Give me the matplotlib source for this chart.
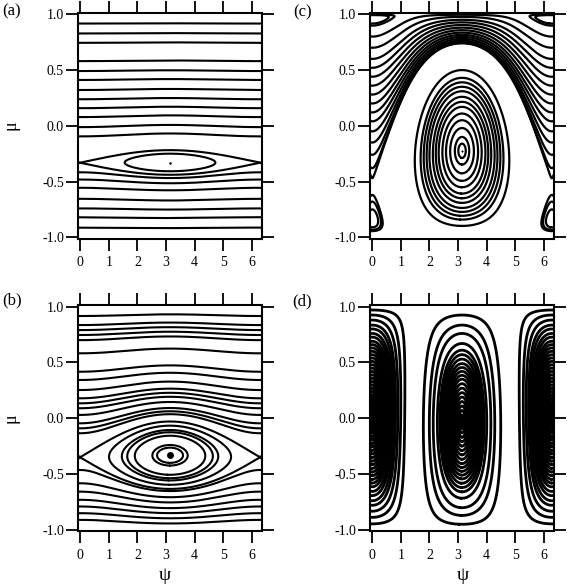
import numpy as np
import matplotlib
matplotlib.use('Agg')
import matplotlib.pyplot as plt
import contourpy

plt.rcParams['font.family'] = ['Liberation Serif', 'DejaVu Serif']
plt.rcParams['axes.unicode_minus'] = False

# phase portraits: H = A*(mu - mu_c)**2 + B*sqrt(1 - mu**2)*cos(psi)
# (A, B, mu_c) per panel
par_a = (1.0, 0.0065, -0.33)
par_b = (1.0, 0.05, -0.34)
par_c = (1.0, 0.682, -0.303)
par_d = (0.15, 1.0, -0.13)

# each orbit is given by one point it passes through:
# mu where it crosses psi = 0, and mu where it crosses psi = pi
a_mu_psi0 = [0.917, 0.828, 0.744, 0.58, 0.491, 0.411, 0.321, 0.238, 0.158, 0.078,
             -0.012, -0.095, -0.33, -0.417, -0.482, -0.556, -0.655, -0.741, -0.82, -0.913]
a_mu_psipi = [-0.25]

b_mu_psi0 = [0.916, 0.835, 0.79, 0.746, 0.70, 0.582, 0.417, 0.343, 0.253, 0.179, 0.134,
             0.09, 0.03, -0.045, -0.09, -0.134, -0.345, -0.463, -0.582, -0.657, -0.73,
             -0.79, -0.85, -0.91]
b_mu_psipi = [-0.239, -0.263, -0.156, -0.105, -0.125, -0.066]

c_mu_psi0 = [0.997, 0.993, 0.8, 0.7, 0.6, 0.52, 0.44, 0.36, 0.28, 0.2, 0.12, 0.04,
             -0.05, -0.15, -0.26, -0.38, -0.47, -0.62, -0.68, -0.75]
c_mu_psipi = [0.5, 0.43, 0.39, 0.35, 0.31, 0.26, 0.215, 0.17, 0.11, 0.05, -0.02, -0.1, -0.16]

d_mu_psi0 = [0.97, 0.925, 0.88, 0.835, 0.80, 0.76, 0.727, 0.69, 0.66, 0.63, 0.60, 0.57,
             0.54, 0.51, 0.48, 0.45, 0.42, 0.39, 0.36, 0.33, 0.30, 0.27, 0.24, 0.21,
             0.18, 0.15, 0.12, 0.09]
d_mu_psipi = [0.925, 0.835, 0.76, 0.67, 0.61, 0.57, 0.53, 0.49, 0.455, 0.42, 0.385,
              0.35, 0.31, 0.27, 0.23, 0.19, 0.15, 0.11, 0.07, 0.03, 0.0]

# fixed points drawn as dots (psi, mu, size)
a_dots = [(np.pi, -0.33, 1.8)]
b_dots = [(np.pi, -0.329, 5.0)]
c_dots = [(np.pi, -0.23, 1.5)]
d_dots = []

xticks = [0, 1, 2, 3, 4, 5, 6]
yticks = [-1.0, -0.5, 0.0, 0.5, 1.0]
ytick_labels = ['-1.0', '-0.5', '0.0', '0.5', '1.0']

psi_grid = np.linspace(-0.6, 2 * np.pi + 0.6, 1000)
mu_grid = np.linspace(-1.0, 1.0, 1801)
PSI, MU = np.meshgrid(psi_grid, mu_grid)


def draw_panel(ax, par, mu0, mupi, dots, lw):
    A, B, mc = par
    H = A * (MU - mc) ** 2 + B * np.sqrt(np.clip(1 - MU ** 2, 0, None)) * np.cos(PSI)
    gen = contourpy.contour_generator(psi_grid, mu_grid, H, line_type='Separate')
    pts = [(0.0, m) for m in mu0] + [(np.pi, m) for m in mupi]
    for p, m in pts:
        level = A * (m - mc) ** 2 + B * np.sqrt(1 - m * m) * np.cos(p)
        for line in gen.lines(level):
            # keep only the pieces that pass through the read point (or its 2pi copies)
            d = np.inf
            for k in (-1, 0, 1):
                dd = np.hypot((line[:, 0] - p - 2 * np.pi * k) / 6.3,
                              (line[:, 1] - m) / 2.0)
                d = min(d, dd.min())
            if d < 0.012:
                ax.plot(line[:, 0], line[:, 1], color='black', lw=lw,
                        solid_capstyle='round', solid_joinstyle='round')
    for p, m, s in dots:
        ax.plot(p, m, 'o', color='black', ms=s, mew=0)

    ax.set_xlim(-0.08, 6.36)
    ax.set_ylim(-1.013, 1.013)
    ax.set_xticks(xticks)
    ax.set_yticks(yticks)
    ax.set_yticklabels(ytick_labels)
    ax.tick_params(direction='out', length=8.5, width=1.3, top=True, right=True,
                   labelsize=10, pad=1.5)
    ax.tick_params(axis='x', pad=4)
    for s in ax.spines.values():
        s.set_linewidth(1.5)


fig = plt.figure(figsize=(5.67, 5.84), dpi=100)
W = 184 / 567
ax_a = fig.add_axes([78 / 567, 0.5912, W, 0.3868])
ax_c = fig.add_axes([370 / 567, 0.5912, W, 0.3868])
ax_b = fig.add_axes([78 / 567, 0.0901, W, 0.3873])
ax_d = fig.add_axes([370 / 567, 0.0901, W, 0.3873])

draw_panel(ax_a, par_a, a_mu_psi0, a_mu_psipi, a_dots, 1.5)
draw_panel(ax_b, par_b, b_mu_psi0, b_mu_psipi, b_dots, 1.5)
draw_panel(ax_c, par_c, c_mu_psi0, c_mu_psipi, c_dots, 1.6)
draw_panel(ax_d, par_d, d_mu_psi0, d_mu_psipi, d_dots, 2.0)

fig.text(2 / 567, 1 - 11 / 584, '(a)', ha='left', va='center', fontsize=12)
fig.text(293 / 567, 1 - 12 / 584, '(c)', ha='left', va='center', fontsize=12)
fig.text(2 / 567, 1 - 300 / 584, '(b)', ha='left', va='center', fontsize=12)
fig.text(292 / 567, 1 - 301 / 584, '(d)', ha='left', va='center', fontsize=12)

fig.text(11 / 567, 1 - 125 / 584, 'μ', rotation=90, ha='center', va='center', fontsize=13)
fig.text(11 / 567, 1 - 418 / 584, 'μ', rotation=90, ha='center', va='center', fontsize=13)
fig.text(165 / 567, 1 - 575 / 584, 'ψ', ha='center', va='center', fontsize=14)
fig.text(463 / 567, 1 - 575 / 584, 'ψ', ha='center', va='center', fontsize=14)

fig.savefig('out.png', dpi=100)
